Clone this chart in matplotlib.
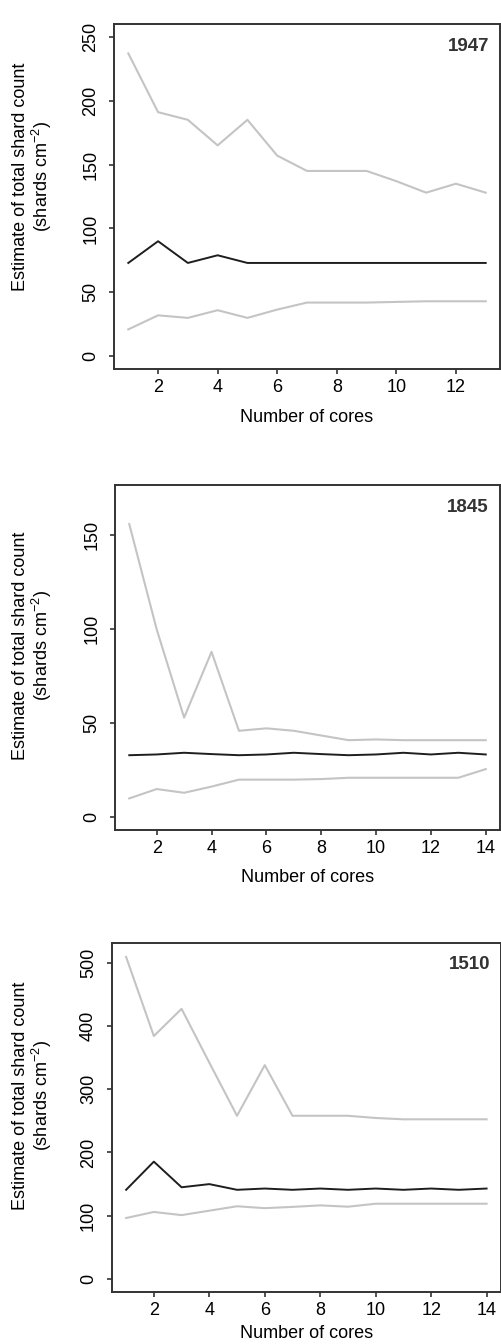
import matplotlib
matplotlib.use("Agg")
import matplotlib.pyplot as plt
import numpy as np

plt.rcParams['font.family'] = ['Liberation Sans', 'DejaVu Sans']
plt.rcParams['mathtext.fontset'] = 'custom'
plt.rcParams['mathtext.rm'] = 'Liberation Sans'
plt.rcParams['mathtext.it'] = 'Liberation Sans:italic'

# Données
cores_1947 = list(range(1, 14))
upper_1947 = [237, 191, 185, 165, 185, 157, 145, 145, 145, 137, 128, 135, 128]
mean_1947 = [73, 90, 73, 79, 73, 73, 73, 73, 73, 73, 73, 73, 73]
lower_1947 = [21, 32, 30, 36, 30, 36.5, 42, 42, 42, 42.5, 43, 43, 43]

cores_1845 = list(range(1, 15))
upper_1845 = [156, 100, 53, 88, 46, 47.3, 46, 43.5, 41, 41.4, 41, 41, 41, 41]
mean_1845 = [33, 33.4, 34.3, 33.6, 33, 33.4, 34.3, 33.6, 33, 33.4, 34.3, 33.4, 34.3, 33.4]
lower_1845 = [10, 15, 13, 16.3, 20, 20, 20, 20.3, 21, 21, 21, 21, 21, 25.6]

cores_1510 = list(range(1, 15))
upper_1510 = [509, 384, 427, 342, 258, 338, 258, 258, 258, 254.5, 252.4, 252.4, 252.4, 252.4]
mean_1510 = [141, 185.5, 145, 150, 141, 143, 141, 143, 141, 143, 141, 143, 141, 143]
lower_1510 = [96.4, 106, 101, 108, 115, 112, 114, 116.4, 114.3, 119, 119, 119, 119, 119]

years = ['1947', '1845', '1510']

gris = '#c4c4c4'
noir = '#1e1e1e'
cadre = '#333333'

fig = plt.figure(figsize=(5.02, 13.44), dpi=100)
H = 1344.0
W = 502.0

# (gauche, haut, droite, bas) en pixels
boites = [(114, 24, 500, 369), (115, 485, 500, 830), (111.7, 942.7, 501, 1292)]
ylims = [(-10, 260), (-6.8, 176.8), (-20.5, 531.5)]
xlims = [(0.52, 13.48), (0.48, 14.52), (0.48, 14.52)]
yticks = [np.arange(0, 251, 50), np.arange(0, 151, 50), np.arange(0, 501, 100)]
xticks = [np.arange(2, 13, 2), np.arange(2, 15, 2), np.arange(2, 15, 2)]
ylab_y = [177, 646, 1096]
xlab_y = [417, 877, 1333]

donnees = [(cores_1947, upper_1947, mean_1947, lower_1947),
           (cores_1845, upper_1845, mean_1845, lower_1845),
           (cores_1510, upper_1510, mean_1510, lower_1510)]

for i in range(3):
    l, t, r, b = boites[i]
    ax = fig.add_axes([l / W, 1 - b / H, (r - l) / W, (b - t) / H])
    x, up, m, lo = donnees[i]
    ax.plot(x, up, color=gris, lw=1.5)
    ax.plot(x, lo, color=gris, lw=1.5)
    ax.plot(x, m, color=noir, lw=1.4)
    ax.set_xlim(xlims[i])
    ax.set_ylim(ylims[i])
    ax.set_xticks(xticks[i])
    ax.set_yticks(yticks[i])
    ax.tick_params(direction='out', length=3.5, width=1.2, color=cadre,
                   labelsize=13)
    ax.tick_params(axis='x', pad=4)
    ax.tick_params(axis='y', labelrotation=90, pad=7)
    for lab in ax.get_yticklabels():
        lab.set_va('center')
    for s in ax.spines.values():
        s.set_color(cadre)
        s.set_linewidth(1.4)
    ax.annotate(years[i], xy=(1, 1), xycoords='axes fraction',
                xytext=(-8, -16), textcoords='offset points',
                ha='right', va='center', fontsize=13.5, fontweight='bold',
                color='#333333')
    fig.text(33 / W, 1 - ylab_y[i] / H,
             'Estimate of total shard count\n(shards cm$^{-2}$)',
             rotation=90, ha='center', va='center', multialignment='center',
             fontsize=13, linespacing=1.05)
    fig.text(((l + r) / 2) / W, 1 - xlab_y[i] / H, 'Number of cores',
             ha='center', va='center', fontsize=13)

plt.savefig('out.png', dpi=100)
